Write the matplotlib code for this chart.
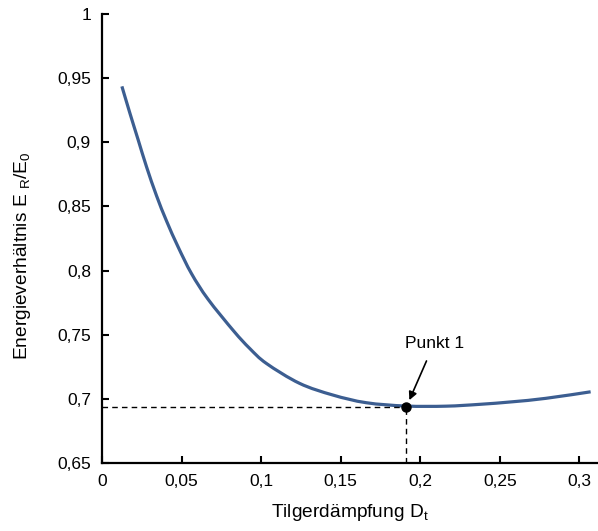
import numpy as np
import matplotlib.pyplot as plt
from matplotlib.path import Path
from matplotlib.patches import PathPatch

plt.rcParams['font.family'] = ['Liberation Sans', 'DejaVu Sans']
plt.rcParams['mathtext.fontset'] = 'custom'
plt.rcParams['mathtext.rm'] = 'Liberation Sans'

# Kurve Energieverhaeltnis ueber Tilgerdaempfung
daempfung = [0.0125, 0.0176, 0.0228, 0.0280, 0.0343, 0.0406, 0.0478, 0.0562,
             0.0666, 0.0828, 0.0928, 0.1033, 0.1241, 0.1450, 0.1660, 0.1910,
             0.2161, 0.2370, 0.2577, 0.2788, 0.3070]
verhaeltnis = [0.9436, 0.9224, 0.9016, 0.8808, 0.8582, 0.8385, 0.8185, 0.7977,
               0.7777, 0.7528, 0.7393, 0.7276, 0.7121, 0.7030, 0.6970, 0.6944,
               0.6943, 0.6957, 0.6977, 0.7004, 0.7055]

punkt_x = 0.191
punkt_y = 0.694

x_ticks = [0, 0.05, 0.1, 0.15, 0.2, 0.25, 0.3]
x_labels = ['0', '0,05', '0,1', '0,15', '0,2', '0,25', '0,3']
y_ticks = [0.65, 0.7, 0.75, 0.8, 0.85, 0.9, 0.95, 1.0]
y_labels = ['0,65', '0,7', '0,75', '0,8', '0,85', '0,9', '0,95', '1']


def glatte_kurve(xs, ys):
    # Excel-artige geglaettete Linie (Catmull-Rom als Bezier)
    pts = np.column_stack([xs, ys])
    verts = [pts[0]]
    codes = [Path.MOVETO]
    n = len(pts)
    for i in range(n - 1):
        p0 = pts[max(i - 1, 0)]
        p1 = pts[i]
        p2 = pts[i + 1]
        p3 = pts[min(i + 2, n - 1)]
        c1 = p1 + (p2 - p0) / 6
        c2 = p2 - (p3 - p1) / 6
        verts += [c1, c2, p2]
        codes += [Path.CURVE4] * 3
    return Path(verts, codes)


fig = plt.figure(figsize=(5.98, 5.31), dpi=100)
ax = fig.add_axes([102 / 598, 1 - 463 / 531, 495 / 598, 449 / 531])

kurve = PathPatch(glatte_kurve(daempfung, verhaeltnis), facecolor='none',
                  edgecolor='#3C5E91', lw=2.3, capstyle='butt')
ax.add_patch(kurve)
ax.plot([0, punkt_x], [punkt_y, punkt_y], color='black', lw=1, ls=(0, (4, 3)))
ax.plot([punkt_x, punkt_x], [0.65, punkt_y], color='black', lw=1, ls=(0, (4, 3)))
ax.plot(punkt_x, punkt_y, 'o', color='black', ms=6.5, zorder=5)

ax.annotate('Punkt 1', xy=(0.1931, 0.699), xytext=(0.2088, 0.7435),
            ha='center', va='center', fontsize=12.5,
            arrowprops=dict(arrowstyle='-|>', color='black', lw=1.2,
                            shrinkA=6, shrinkB=0, mutation_scale=12))

ax.set_xlim(0, 0.311)
ax.set_ylim(0.65, 1.0)
ax.set_xticks(x_ticks)
ax.set_xticklabels(x_labels)
ax.set_yticks(y_ticks)
ax.set_yticklabels(y_labels)
ax.tick_params(direction='in', length=5, width=1.5, labelsize=12.5, pad=8)

ax.spines['top'].set_visible(False)
ax.spines['right'].set_visible(False)
ax.spines['left'].set_linewidth(1.6)
ax.spines['bottom'].set_linewidth(1.6)

ax.set_xlabel(r'Tilgerdämpfung D$_\mathregular{t}$', fontsize=13.8, labelpad=9)
ax.set_ylabel(r'Energieverhältnis E $_\mathregular{R}$/E$_\mathregular{0}$', fontsize=13.8)
ax.yaxis.set_label_coords(-0.139, 0.461)

fig.savefig('out.png', dpi=100)
